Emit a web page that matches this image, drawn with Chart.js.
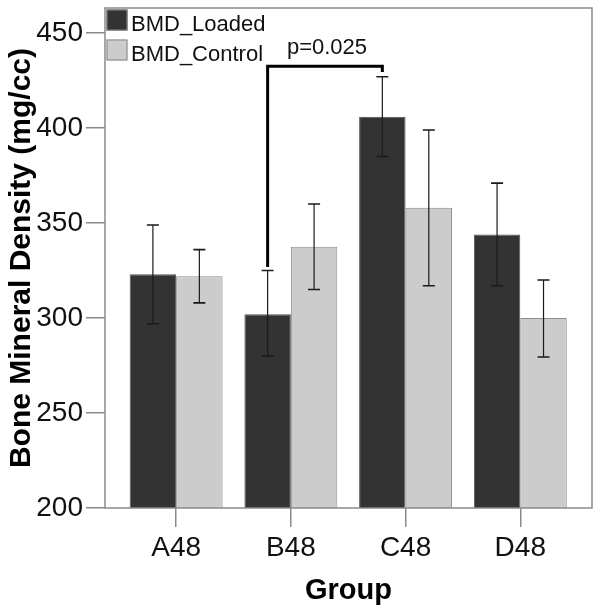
<!DOCTYPE html>
<html><head><meta charset="utf-8">
<script src="https://cdn.jsdelivr.net/npm/chart.js@4"></script>
<style>html,body{margin:0;padding:0;background:#fff}canvas{display:block}</style>
</head><body>
<canvas id="c" width="602" height="614"></canvas>
<script>
const categories = ['A48', 'B48', 'C48', 'D48'];
const seriesNames = ['BMD_Loaded', 'BMD_Control'];
const loaded = [323, 302, 406, 344];
const loadedLow = [297, 280, 385, 317];
const loadedHigh = [349, 325, 427, 371];
const control = [322, 337.5, 358, 300];
const controlLow = [308, 315, 317, 279.5];
const controlHigh = [336, 360, 399, 320];
const yTicks = [200, 250, 300, 350, 400, 450];
const bracketGroups = [1, 2];            // B48 loaded  -> C48 loaded
const bracketLevels = [326.8, 432.6, 429.5]; // left end, top, right end
const pLabel = 'p=0.025';

const FONT = "'Liberation Sans', Arial, sans-serif";
const darkCol = '#333333', lightCol = '#cccccc', frameCol = '#8a8a8a';

const lows = [loadedLow, controlLow], highs = [loadedHigh, controlHigh];

const framePlugin = {
  id: 'frame',
  afterDatasetsDraw(chart) {
    const {ctx, chartArea: a} = chart;
    ctx.save();
    ctx.strokeStyle = frameCol; ctx.lineWidth = 1.5;
    ctx.strokeRect(a.left, a.top, a.right - a.left, a.bottom - a.top);
    ctx.restore();
  }
};

const errorPlugin = {
  id: 'errbars',
  afterDatasetsDraw(chart) {
    const {ctx} = chart; const y = chart.scales.y;
    ctx.save();
    ctx.strokeStyle = '#1a1a1a';
    chart.data.datasets.forEach((ds, di) => {
      const meta = chart.getDatasetMeta(di);
      meta.data.forEach((bar, i) => {
        const x = bar.x, y1 = y.getPixelForValue(lows[di][i]), y2 = y.getPixelForValue(highs[di][i]);
        ctx.lineWidth = 1.2;
        ctx.beginPath(); ctx.moveTo(x, y1); ctx.lineTo(x, y2); ctx.stroke();
        ctx.lineWidth = 1.6;
        ctx.beginPath();
        ctx.moveTo(x - 6, y1); ctx.lineTo(x + 6, y1);
        ctx.moveTo(x - 6, y2); ctx.lineTo(x + 6, y2);
        ctx.stroke();
      });
    });
    ctx.restore();
  }
};

const bracketPlugin = {
  id: 'bracket',
  afterDatasetsDraw(chart) {
    const {ctx} = chart; const y = chart.scales.y;
    const meta = chart.getDatasetMeta(0);
    const xL = meta.data[bracketGroups[0]].x, xR = meta.data[bracketGroups[1]].x;
    const yL = y.getPixelForValue(bracketLevels[0]);
    const yT = y.getPixelForValue(bracketLevels[1]);
    const yR = y.getPixelForValue(bracketLevels[2]);
    ctx.save();
    ctx.strokeStyle = '#000'; ctx.lineWidth = 3; ctx.lineJoin = 'miter';
    ctx.beginPath(); ctx.moveTo(xL, yL); ctx.lineTo(xL, yT); ctx.lineTo(xR, yT); ctx.lineTo(xR, yR); ctx.stroke();
    ctx.fillStyle = '#111'; ctx.font = '22px ' + FONT; ctx.textAlign = 'center'; ctx.textBaseline = 'alphabetic';
    ctx.fillText(pLabel, (xL + xR) / 2 + 2, yT - 12);
    ctx.restore();
  }
};

const legendPlugin = {
  id: 'customLegend',
  afterDraw(chart) {
    const {ctx, chartArea: a} = chart;
    ctx.save();
    ctx.font = '22px ' + FONT; ctx.textBaseline = 'alphabetic'; ctx.textAlign = 'left';
    chart.data.datasets.forEach((ds, i) => {
      const bx = a.left + 1.5, by = a.top + 1.5 + i * 30, s = 21;
      ctx.fillStyle = ds.backgroundColor; ctx.fillRect(bx, by, s, s);
      ctx.strokeStyle = '#888'; ctx.lineWidth = 1; ctx.strokeRect(bx + 0.5, by + 0.5, s - 1, s - 1);
      ctx.fillStyle = '#111';
      ctx.fillText(ds.label, bx + s + 3.5, by + s);
    });
    ctx.restore();
  }
};

new Chart(document.getElementById('c'), {
  type: 'bar',
  data: {
    datasets: [
      { label: seriesNames[0], data: loaded.map((v, i) => ({x: i, y: v})), backgroundColor: darkCol, borderColor: '#555', borderWidth: 1 },
      { label: seriesNames[1], data: control.map((v, i) => ({x: i, y: v})), backgroundColor: lightCol, borderColor: '#8c8c8c', borderWidth: 1 }
    ]
  },
  options: {
    responsive: false, animation: false,
    categoryPercentage: 0.81, barPercentage: 1,
    layout: { padding: { left: 0, right: 10, top: 8, bottom: 0 } },
    plugins: { legend: { display: false }, tooltip: { enabled: false } },
    scales: {
      x: {
        type: 'linear', min: -0.62, max: 3.625, offset: false,
        afterBuildTicks(s) { s.ticks = categories.map((c, i) => ({value: i})); },
        afterFit(s) { s.height = 106; s.paddingLeft = 0; s.paddingRight = 0; },
        ticks: { callback: (v) => categories[v], color: '#111', font: { family: FONT, size: 28 }, padding: 4, maxRotation: 0, autoSkip: false },
        grid: { offset: false, drawOnChartArea: false, drawTicks: true, tickLength: 19, color: frameCol, lineWidth: 1.5 },
        border: { display: false },
        title: { display: true, text: 'Group', color: '#000', font: { family: FONT, size: 29, weight: 'bold', lineHeight: 1.2 }, padding: { top: 0, bottom: 6 } }
      },
      y: {
        min: 200, max: 463.2,
        afterBuildTicks(s) { s.ticks = yTicks.map(v => ({value: v})); },
        afterFit(s) { s.width = 105; s.paddingTop = 0; s.paddingBottom = 0; },
        ticks: { color: '#111', font: { family: FONT, size: 28 }, padding: 3 },
        grid: { drawOnChartArea: false, drawTicks: true, tickLength: 19, color: frameCol, lineWidth: 1.5 },
        border: { display: false },
        title: { display: true, text: 'Bone Mineral Density (mg/cc)', color: '#000', font: { family: FONT, size: 30, weight: 'bold', lineHeight: 1.2 }, padding: { top: 4, bottom: 0 } }
      }
    }
  },
  plugins: [framePlugin, errorPlugin, bracketPlugin, legendPlugin]
});
</script>
</body></html>
